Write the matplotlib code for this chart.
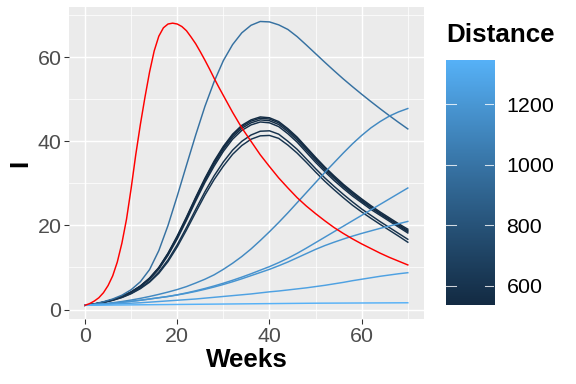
import numpy as np
import matplotlib
matplotlib.use("Agg")
import matplotlib.pyplot as plt
from matplotlib.colors import ListedColormap, Normalize

# ---------------- data ----------------
weeks = list(range(0, 71, 2))
weeks_red = list(range(0, 31)) + list(range(32, 71, 2))

red_I = [1, 1.4, 2.0, 2.8, 4.0, 5.7, 8.0, 11.3, 15.8, 21.5, 28.8, 36.8, 44.0, 50.5,
         56.5, 61.5, 65.0, 67.0, 67.9, 68.1, 67.9, 67.3, 66.3, 64.8, 63.2, 61.3, 59.3,
         57.2, 55.0, 52.9, 50.9,
         46.9, 43.2, 40.0, 36.8, 34.0, 31.3, 28.9, 26.6, 24.6, 22.8, 21.1, 19.5,
         18.1, 16.8, 15.6, 14.5, 13.4, 12.4, 11.5, 10.6]

distances = [537, 546, 555, 566, 585, 600, 980, 1120, 1175, 1190, 1260, 1346]

series_I = [
    # dark cluster
    [1, 1.3, 1.75, 2.35, 3.1, 4.2, 5.6, 7.5, 10.0, 13.4, 17.5, 22.0, 26.7, 31.2, 35.3,
     38.8, 41.7, 43.8, 45.1, 45.8, 45.6, 44.7, 43.0, 41.0, 38.6, 36.2, 33.9, 31.8,
     29.8, 28.0, 26.3, 24.7, 23.2, 21.8, 20.4, 19.1],
    [1, 1.3, 1.74, 2.33, 3.08, 4.15, 5.55, 7.4, 9.9, 13.3, 17.3, 21.8, 26.5, 31.0, 35.0,
     38.5, 41.4, 43.5, 44.8, 45.5, 45.3, 44.4, 42.7, 40.7, 38.3, 35.9, 33.6, 31.5,
     29.5, 27.7, 26.0, 24.4, 22.9, 21.5, 20.1, 18.8],
    [1, 1.3, 1.73, 2.31, 3.05, 4.1, 5.5, 7.3, 9.8, 13.1, 17.1, 21.5, 26.2, 30.6, 34.6,
     38.1, 41.0, 43.1, 44.4, 45.1, 44.9, 44.0, 42.3, 40.3, 37.9, 35.5, 33.2, 31.2,
     29.2, 27.4, 25.7, 24.2, 22.7, 21.3, 19.9, 18.5],
    [1, 1.29, 1.72, 2.3, 3.02, 4.05, 5.4, 7.2, 9.6, 12.9, 16.8, 21.2, 25.8, 30.2, 34.1,
     37.6, 40.5, 42.6, 43.9, 44.6, 44.4, 43.5, 41.8, 39.8, 37.4, 35.0, 32.8, 30.7,
     28.8, 27.0, 25.4, 23.8, 22.4, 21.0, 19.6, 18.2],
    [1, 1.28, 1.68, 2.22, 2.9, 3.85, 5.1, 6.7, 8.9, 11.8, 15.4, 19.5, 23.8, 28.0, 31.8,
     35.1, 37.9, 40.0, 41.5, 42.4, 42.5, 41.7, 40.0, 38.1, 35.8, 33.5, 31.3, 29.3,
     27.4, 25.6, 23.9, 22.4, 20.9, 19.5, 18.1, 16.7],
    [1, 1.28, 1.66, 2.18, 2.85, 3.75, 4.95, 6.5, 8.6, 11.4, 14.9, 18.9, 23.1, 27.2, 30.9,
     34.1, 36.9, 39.0, 40.5, 41.3, 41.4, 40.7, 39.1, 37.2, 35.0, 32.7, 30.5, 28.5,
     26.6, 24.8, 23.2, 21.7, 20.25, 18.85, 17.45, 16.0],
    # mid blue
    [1, 1.35, 1.85, 2.5, 3.4, 4.7, 6.6, 9.5, 14.0, 20.0, 27.0, 34.3, 41.5, 48.3, 54.2,
     59.2, 63.0, 65.8, 67.6, 68.5, 68.4, 67.7, 66.6, 64.9, 62.9, 60.85, 58.8, 56.8,
     54.85, 53.0, 51.2, 49.45, 47.75, 46.1, 44.5, 42.95],
    # light lines
    [1, 1.15, 1.35, 1.6, 1.9, 2.25, 2.65, 3.1, 3.6, 4.15, 4.75, 5.45, 6.3, 7.2, 8.25,
     9.55, 11.0, 12.6, 14.4, 16.4, 18.5, 20.7, 23.0, 25.4, 27.8, 30.2, 32.6, 34.9,
     37.2, 39.4, 41.4, 43.2, 44.7, 46.0, 47.0, 47.8],
    [1, 1.15, 1.3, 1.5, 1.7, 1.95, 2.2, 2.5, 2.8, 3.1, 3.5, 3.95, 4.45, 5.0, 5.6, 6.25,
     6.95, 7.7, 8.5, 9.35, 10.2, 11.15, 12.2, 13.35, 14.6, 15.9, 17.2, 18.5, 19.8,
     21.1, 22.4, 23.7, 25.0, 26.3, 27.6, 28.9],
    [1, 1.15, 1.3, 1.5, 1.7, 1.95, 2.2, 2.5, 2.8, 3.1, 3.45, 3.85, 4.3, 4.8, 5.35, 5.95,
     6.6, 7.3, 8.05, 8.8, 9.55, 10.4, 11.3, 12.3, 13.3, 14.3, 15.2, 16.0, 16.75,
     17.45, 18.1, 18.7, 19.3, 19.85, 20.4, 20.95],
    [1, 1.1, 1.2, 1.3, 1.4, 1.5, 1.6, 1.75, 1.9, 2.05, 2.2, 2.35, 2.5, 2.7, 2.9, 3.1,
     3.3, 3.5, 3.7, 3.95, 4.2, 4.4, 4.65, 4.9, 5.15, 5.45, 5.75, 6.1, 6.45, 6.85, 7.2,
     7.55, 7.9, 8.2, 8.5, 8.75],
    [1, 1.02, 1.04, 1.06, 1.08, 1.1, 1.12, 1.14, 1.16, 1.18, 1.2, 1.22, 1.24, 1.26,
     1.28, 1.3, 1.32, 1.34, 1.36, 1.38, 1.4, 1.42, 1.44, 1.46, 1.48, 1.5, 1.51, 1.52,
     1.53, 1.54, 1.55, 1.56, 1.57, 1.58, 1.59, 1.6],
]

x_ticks = [0, 20, 40, 60]
y_ticks = [0, 20, 40, 60]
cbar_ticks = [600, 800, 1000, 1200]

# ---------------- ggplot-like Lab gradient ----------------
def _hex2rgb(h):
    h = h.lstrip('#')
    return np.array([int(h[i:i + 2], 16) / 255 for i in (0, 2, 4)])

_M = np.array([[0.4124, 0.3576, 0.1805], [0.2126, 0.7152, 0.0722], [0.0193, 0.1192, 0.9505]])
_W = np.array([0.95047, 1.0, 1.08883])

def _rgb2lab(c):
    lin = np.where(c <= 0.04045, c / 12.92, ((c + 0.055) / 1.055) ** 2.4)
    xyz = _M @ lin / _W
    d = 6 / 29
    f = np.where(xyz > d ** 3, np.cbrt(xyz), xyz / (3 * d * d) + 4 / 29)
    return np.array([116 * f[1] - 16, 500 * (f[0] - f[1]), 200 * (f[1] - f[2])])

def _lab2rgb(lab):
    fy = (lab[0] + 16) / 116
    fx = fy + lab[1] / 500
    fz = fy - lab[2] / 200
    d = 6 / 29
    f = np.array([fx, fy, fz])
    xyz = np.where(f > d, f ** 3, 3 * d * d * (f - 4 / 29)) * _W
    lin = np.linalg.solve(_M, xyz)
    lin = np.clip(lin, 0, 1)
    c = np.where(lin <= 0.0031308, 12.92 * lin, 1.055 * lin ** (1 / 2.4) - 0.055)
    return np.clip(c, 0, 1)

lab_lo = _rgb2lab(_hex2rgb('#132B43'))
lab_hi = _rgb2lab(_hex2rgb('#56B1F7'))
cmap = ListedColormap([_lab2rgb(lab_lo + (lab_hi - lab_lo) * t) for t in np.linspace(0, 1, 256)])
norm = Normalize(vmin=min(distances), vmax=max(distances))

# ---------------- figure ----------------
plt.rcParams['font.family'] = ['Liberation Sans', 'DejaVu Sans']
fig = plt.figure(figsize=(6, 4), dpi=96)
ax = fig.add_axes([0.1196, 0.168, 0.6164, 0.813])
ax.set_facecolor('#EBEBEB')

for d, vals in zip(distances, series_I):
    ax.plot(weeks, vals, color=cmap(norm(d)), lw=1.1, zorder=3)
ax.plot(weeks_red, red_I, color='red', lw=1.1, zorder=4)

allv = np.concatenate([np.ravel(v) for v in series_I] + [red_I])
ymin, ymax = allv.min(), allv.max()
yr = ymax - ymin
ax.set_xlim(-3.5, 73.5)
ax.set_ylim(ymin - 0.05 * yr, ymax + 0.05 * yr)

ax.set_xticks(x_ticks)
ax.set_yticks(y_ticks)
ax.set_xticks([10, 30, 50, 70], minor=True)
ax.set_yticks([10, 30, 50, 70], minor=True)
ax.grid(which='major', color='white', lw=1.1)
ax.grid(which='minor', color='white', lw=0.55)
ax.set_axisbelow(True)
for s in ax.spines.values():
    s.set_visible(False)
ax.tick_params(which='major', length=3.5, width=0.8, color='#333333',
               labelsize=16, labelcolor='#4D4D4D', pad=2)
ax.tick_params(which='minor', length=0)
ax.set_xlabel('Weeks', fontsize=19.5, fontweight='bold', labelpad=2)
ax.set_ylabel('I', fontsize=19.5, fontweight='bold', labelpad=4)

# ---------------- colourbar ----------------
cax = fig.add_axes([0.774, 0.206, 0.0844, 0.638])
grad = np.linspace(norm.vmin, norm.vmax, 300).reshape(-1, 1)
cax.imshow(grad, aspect='auto', cmap=cmap, norm=norm, origin='lower',
           extent=[0, 1, norm.vmin, norm.vmax])
cax.set_xlim(0, 1)
cax.set_ylim(norm.vmin, norm.vmax)
cax.set_xticks([])
cax.set_yticks(cbar_ticks)
cax.yaxis.tick_right()
cax.tick_params(axis='y', length=0, labelsize=16, labelcolor='black', pad=9)
for t in cbar_ticks:
    cax.plot([0, 0.2], [t, t], color='white', lw=0.8, alpha=0.8)
    cax.plot([0.8, 1], [t, t], color='white', lw=0.8, alpha=0.8)
for s in cax.spines.values():
    s.set_visible(False)
fig.text(0.774, 0.908, 'Distance', fontsize=19.5, fontweight='bold', ha='left', va='center')

fig.savefig('out.png', dpi=96)
